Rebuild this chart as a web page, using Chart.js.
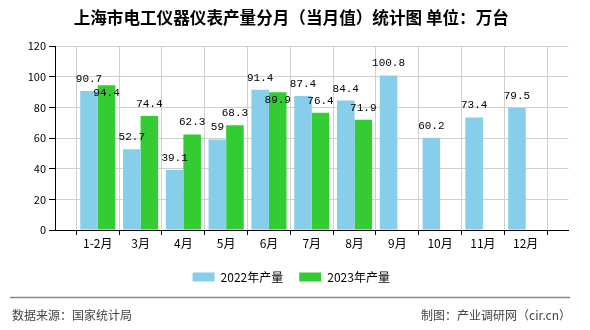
<!DOCTYPE html>
<html>
<head>
<meta charset="utf-8">
<script src="https://cdn.jsdelivr.net/npm/chart.js@4.4.0/dist/chart.umd.min.js"></script>
<style>
  body { margin: 0; background: #fff; }
  canvas { display: block; }
</style>
</head>
<body>
<canvas id="myChart" width="590" height="330"></canvas>
<script>
// 上海市电工仪器仪表产量分月（当月值）
const months = ['1-2月', '3月', '4月', '5月', '6月', '7月', '8月', '9月', '10月', '11月', '12月'];
const output2022 = [90.7, 52.7, 39.1, 59, 91.4, 87.4, 84.4, 100.8, 60.2, 73.4, 79.5];
const output2023 = [94.4, 74.4, 62.3, 68.3, 89.9, 76.4, 71.9, null, null, null, null];
const yTicks = [0, 20, 40, 60, 80, 100, 120];

const titleText = '上海市电工仪器仪表产量分月（当月值）统计图 单位：万台';
const sourceText = '数据来源：国家统计局';
const makerText = '制图：产业调研网（cir.cn）';

// empty slot at both ends, like the original axis
const labels = [''].concat(months, ['']);
const pad = arr => [null].concat(arr, [null]);

const whiteBg = {
  id: 'whiteBg',
  beforeDraw(chart) {
    const c = chart.ctx;
    c.save();
    c.fillStyle = '#fff';
    c.fillRect(0, 0, chart.width, chart.height);
    c.restore();
  }
};

// value labels above bars; 2023 label goes inside the bar if it hits the 2022 one
const barLabels = {
  id: 'barLabels',
  afterDatasetsDraw(chart) {
    const c = chart.ctx;
    const m0 = chart.getDatasetMeta(0);
    const m1 = chart.getDatasetMeta(1);
    c.save();
    c.font = '11px "Liberation Mono", monospace';
    c.fillStyle = '#000';
    c.textAlign = 'center';
    c.textBaseline = 'middle';
    for (let i = 0; i < labels.length; i++) {
      const v0 = chart.data.datasets[0].data[i];
      const v1 = chart.data.datasets[1].data[i];
      let y0 = null;
      if (v0 != null) {
        const b = m0.data[i];
        y0 = b.y - 12;
        c.fillText(String(v0), b.x, y0);
      }
      if (v1 != null) {
        const b = m1.data[i];
        let y1 = b.y - 12;
        if (y0 != null && Math.abs(y1 - y0) < 12) y1 = b.y + 8;
        c.fillText(String(v1), b.x, y1);
      }
    }
    c.restore();
  }
};

const footer = {
  id: 'footer',
  afterDraw(chart) {
    const c = chart.ctx;
    c.save();
    c.strokeStyle = '#888';
    c.lineWidth = 1.5;
    c.beginPath();
    c.moveTo(10, 297.5);
    c.lineTo(570, 297.5);
    c.stroke();
    c.font = '12px "Noto Sans CJK SC", sans-serif';
    c.fillStyle = '#444';
    c.textBaseline = 'middle';
    c.textAlign = 'left';
    c.fillText(sourceText, 12, 315);
    c.textAlign = 'right';
    c.fillText(makerText, 571, 315);
    c.restore();
  }
};

window.onload = function() {
  var ctx = document.getElementById('myChart').getContext('2d');
  Chart.defaults.font.family = '"Noto Sans CJK SC", sans-serif';
  Chart.defaults.font.size = 12;
  Chart.defaults.color = '#000';
  new Chart(ctx, {
    type: 'bar',
    data: {
      labels: labels,
      datasets: [
        {
          label: '2022年产量',
          data: pad(output2022),
          backgroundColor: '#87ceeb',
        },
        {
          label: '2023年产量',
          data: pad(output2023),
          backgroundColor: '#33cc33',
        },
      ],
    },
    options: {
      responsive: false,
      animation: false,
      categoryPercentage: 0.82,
      barPercentage: 1,
      layout: { padding: { top: 0, left: 14, right: 21.5, bottom: 37 } },
      plugins: {
        title: {
          display: true,
          text: titleText,
          color: '#000',
          font: { size: 16.6, weight: 'bold' },
          padding: { top: 8, bottom: 18.1 },
        },
        legend: {
          display: true,
          position: 'bottom',
          labels: {
            boxWidth: 22,
            boxHeight: 9,
            padding: 16,
            color: '#000',
            font: { size: 12 },
          },
        },
        tooltip: { enabled: false },
      },
      scales: {
        x: {
          offset: false,
          grid: { color: '#d0d0d0', tickColor: '#000', tickLength: 5 },
          border: { color: '#000' },
          ticks: { padding: 1, autoSkip: false, maxRotation: 0, font: { size: 12 } },
          afterFit: s => { s.height = 25; },
        },
        y: {
          min: 0,
          max: 120,
          afterBuildTicks: s => { s.ticks = yTicks.map(v => ({ value: v })); },
          grid: { color: '#d0d0d0', tickColor: '#000', tickLength: 6 },
          border: { color: '#000' },
          ticks: { padding: 3, font: { size: 11 } },
          afterFit: s => { s.width = 41; },
        },
      },
    },
    plugins: [whiteBg, barLabels, footer],
  });
};
</script>
</body>
</html>
